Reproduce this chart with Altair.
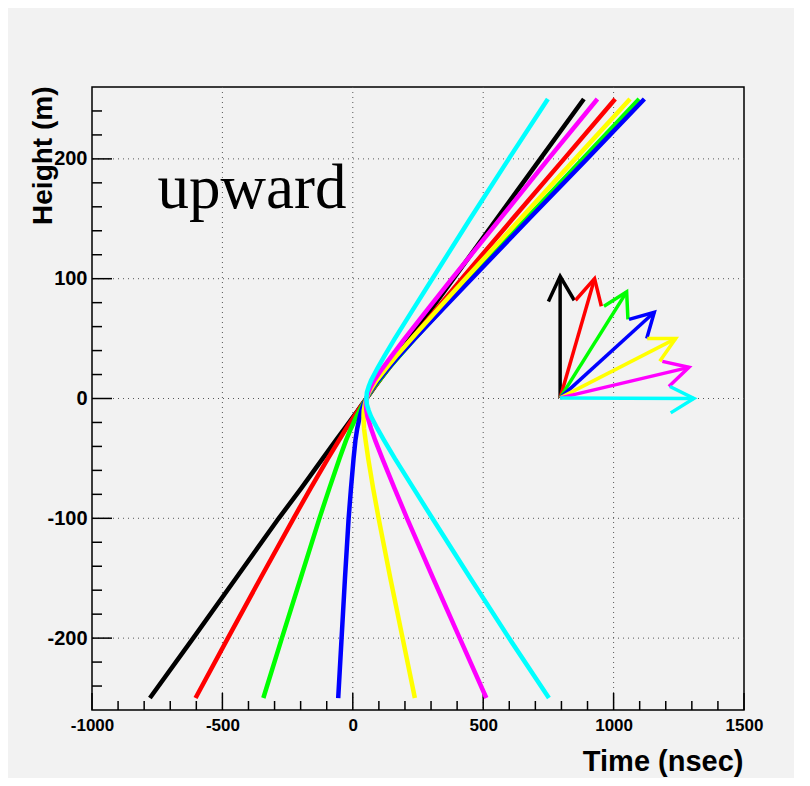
import altair as alt
import pandas as pd

# ---------------- data ----------------
heights = [-250, -200, -150, -100, -75, -50, -35, -25, -15, -10, -5, 0,
           5, 10, 15, 25, 35, 50, 75, 100, 150, 200, 250]

t_black   = [-778, -612, -448, -284, -198, -115, -65, -31, 2, 19, 35, 52,
             69, 85, 102, 135, 169, 219, 302, 386, 552, 719, 886]
t_red     = [-603, -479, -354, -227, -162, -95, -53, -25, 5, 20, 36, 52,
             68, 85, 102, 137, 172, 227, 322, 418, 613, 810, 1006]
t_green   = [-343, -272, -200, -128, -90, -51, -26, -7, 14, 26, 38, 52,
             67, 83, 101, 137, 177, 238, 343, 450, 665, 882, 1098]
t_blue    = [-56, -43, -30, -16, -7, 3, 10, 17, 27, 33, 41, 52,
             65, 80, 97, 135, 175, 238, 346, 456, 676, 898, 1118]
t_yellow  = [238, 191, 144, 99, 78, 59, 49, 43, 41, 42, 46, 52,
             62, 76, 91, 127, 165, 226, 328, 432, 643, 853, 1063]
t_magenta = [512, 410, 308, 208, 160, 113, 86, 70, 56, 52, 50, 52,
             59, 69, 82, 113, 147, 199, 289, 380, 565, 750, 938]
t_cyan    = [752, 599, 451, 305, 233, 161, 120, 94, 70, 61, 54, 52,
             54, 61, 70, 94, 120, 161, 233, 305, 450, 598, 748]

series_names = ["black", "red", "green", "blue", "yellow", "magenta", "cyan"]
series_colors = ["#000000", "#ff0000", "#00ff00", "#0000ff", "#ffff00", "#ff00ff", "#00ffff"]
series_times = [t_black, t_red, t_green, t_blue, t_yellow, t_magenta, t_cyan]

# inset direction arrows (data coordinates)
arrow_base_t = 795
arrow_base_h = 0.5
arrow_tip_t = [795, 927, 1050, 1156, 1238, 1289, 1308]
arrow_tip_h = [102, 100, 89, 72, 50, 26, 0]
barb_left_t = [750, 854, 963, 1059, 1129, 1187, 1216]
barb_left_h = [81, 82, 77, 66, 50, 31, 10]
barb_right_t = [849, 953, 1055, 1127, 1177, 1212, 1219]
barb_right_h = [82, 77, 66, 50, 31, 10, -12]

label_text = ["upward"]
label_t = [-749]
label_h = [159]

x_major = [-1000, -500, 0, 500, 1000, 1500]
x_minor = [v for v in range(-900, 1500, 100) if v % 500 != 0]
y_major = [-200, -100, 0, 100, 200]
y_minor = [v for v in range(-240, 260, 20) if v % 100 != 0]
x_grid = [-500, 0, 500, 1000]
y_grid = [-200, -100, 0, 100, 200]

# ---------------- chart ----------------
W, H = 652, 623
FONT = "Liberation Sans"
xs = alt.Scale(domain=[-1000, 1500], nice=False, zero=False)
ys = alt.Scale(domain=[-260, 260], nice=False, zero=False)

x_axis = alt.Axis(values=x_major, title="Time (nsec)", ticks=False, domain=False, grid=False,
                  labelFont=FONT, labelFontWeight="bold", labelFontSize=17, labelColor="black",
                  labelPadding=7, labelFlush=False, labelOverlap=False,
                  labelExpr="'' + datum.value",
                  titleFont=FONT, titleFontSize=29, titleFontWeight="bold", titleColor="black",
                  titleX=W - 1, titleY=60, titleAlign="right", titleBaseline="alphabetic", titleAngle=0)
y_axis = alt.Axis(values=y_major, title="Height (m)", ticks=False, domain=False, grid=False,
                  labelFont=FONT, labelFontWeight="bold", labelFontSize=20, labelColor="black",
                  labelPadding=5, labelFlush=False, labelOverlap=False,
                  labelExpr="'' + datum.value",
                  titleFont=FONT, titleFontSize=28, titleFontWeight="bold", titleColor="black",
                  titleX=-41, titleY=-1, titleAlign="right", titleBaseline="alphabetic", titleAngle=270)


def X(field):
    return alt.X(field, scale=xs, axis=x_axis)


def Y(field):
    return alt.Y(field, scale=ys, axis=y_axis)


layers = []

# grid (dotted)
gx = alt.Chart(pd.DataFrame({"v": x_grid})).mark_rule(
    color="#555555", strokeWidth=1, strokeDash=[1, 4]).encode(x=X("v:Q"))
gy = alt.Chart(pd.DataFrame({"v": y_grid})).mark_rule(
    color="#555555", strokeWidth=1, strokeDash=[1, 4]).encode(y=Y("v:Q"))
layers += [gx, gy]


# ticks (inside the frame)
def xticks(vals, length):
    return alt.Chart(pd.DataFrame({"v": vals})).mark_rule(color="black", strokeWidth=1.5).encode(
        x=X("v:Q"), y=alt.value(H), y2=alt.value(H - length))


def yticks(vals, length):
    return alt.Chart(pd.DataFrame({"v": vals})).mark_rule(color="black", strokeWidth=1.5).encode(
        y=Y("v:Q"), x=alt.value(0), x2=alt.value(length))


layers += [xticks(x_major, 17), xticks(x_minor, 9), yticks(y_major, 20), yticks(y_minor, 10)]

# curves
for name, color, ts in zip(series_names, series_colors, series_times):
    df = pd.DataFrame({"t": ts, "h": heights, "i": list(range(len(heights)))})
    layers.append(alt.Chart(df).mark_line(color=color, strokeWidth=4.5).encode(
        x=X("t:Q"), y=Y("h:Q"), order="i:Q"))

# arrows
for k, (name, color) in enumerate(zip(series_names, series_colors)):
    df = pd.DataFrame({
        "t": [arrow_base_t, arrow_tip_t[k], barb_left_t[k], arrow_tip_t[k], barb_right_t[k]],
        "h": [arrow_base_h, arrow_tip_h[k], barb_left_h[k], arrow_tip_h[k], barb_right_h[k]],
        "part": ["shaft", "shaft", "head", "head", "head"],
        "i": [0, 1, 2, 3, 4],
    })
    layers.append(alt.Chart(df).mark_line(color=color, strokeWidth=3.5).encode(
        x=X("t:Q"), y=Y("h:Q"), detail="part:N", order="i:Q"))

# label
txt = alt.Chart(pd.DataFrame({"t": label_t, "h": label_h, "s": label_text})).mark_text(
    font="Liberation Serif", fontSize=63, align="left", baseline="alphabetic", color="black").encode(
    x=X("t:Q"), y=Y("h:Q"), text="s:N")
layers.append(txt)

chart = alt.layer(*layers).properties(
    width=W, height=H,
    background="#f2f2f2",
    autosize=alt.AutoSizeParams(type="none"),
    padding={"left": 84, "top": 79, "right": 50, "bottom": 68},
).configure_view(stroke="black", strokeWidth=1.5, fill="#f2f2f2")

chart.save("out.html", embed_options={"renderer": "svg", "actions": False})
